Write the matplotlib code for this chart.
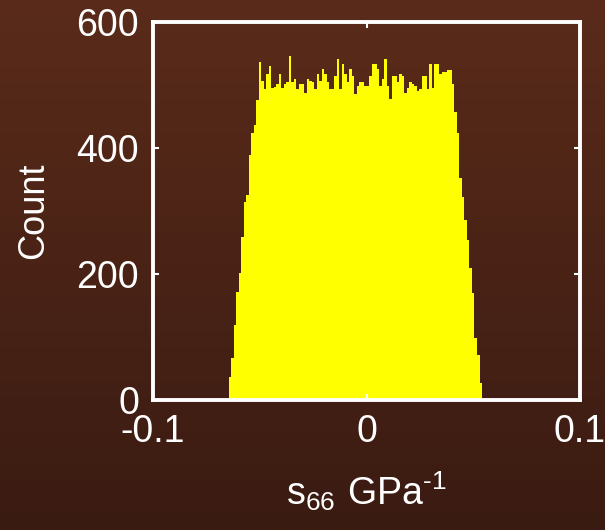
import numpy as np
import matplotlib
matplotlib.use("Agg")
import matplotlib.pyplot as plt
from matplotlib.colors import LinearSegmentedColormap

# histogram counts, left to right
counts = [37, 67, 119, 171, 201, 259, 314, 325, 389, 424, 437,
          476, 537, 507, 494, 517, 530, 495, 497, 502, 517,
          496, 502, 505, 546, 504, 510, 494, 502, 502, 488,
          510, 507, 504, 494, 517, 507, 525, 517, 504, 494,
          494, 514, 541, 494, 533, 517, 504, 525, 514, 486,
          499, 505, 505, 499, 499, 515, 533, 533, 525, 499,
          510, 541, 499, 478, 514, 514, 505, 517, 514, 488,
          496, 505, 502, 499, 491, 494, 514, 514, 494, 533,
          496, 533, 533, 517, 520, 520, 524, 524, 502, 457,
          424, 352, 322, 286, 254, 209, 170, 98, 71, 27]
data_lo = -0.0645   # left edge of first bin
data_hi = 0.0541    # right edge of last bin

xticks = [-0.1, 0, 0.1]
xticklabels = ['-0.1', '0', '0.1']
yticks = [0, 200, 400, 600]

plt.rcParams['font.family'] = ['Liberation Sans', 'DejaVu Sans']
plt.rcParams['mathtext.fontset'] = 'custom'
plt.rcParams['mathtext.rm'] = 'Liberation Sans'

fig = plt.figure(figsize=(6.05, 5.30), dpi=100)

# brown gradient background
bg = fig.add_axes([0, 0, 1, 1], zorder=-10)
cmap = LinearSegmentedColormap.from_list('bg', ['#5a2b1a', '#3a1b12'])
bg.imshow(np.linspace(0, 1, 256).reshape(-1, 1), aspect='auto', cmap=cmap,
          extent=[0, 1, 0, 1])
bg.axis('off')

ax = fig.add_axes([0.2529, 0.2453, 0.7058, 0.7132])
ax.patch.set_alpha(0)

edges = np.linspace(data_lo, data_hi, len(counts) + 1)
ax.stairs(counts, edges, fill=True, color='#ffff00', zorder=1)

ax.set_xlim(-0.1, 0.1)
ax.set_ylim(0, 600)
ax.set_xticks(xticks)
ax.set_xticklabels(xticklabels)
ax.set_yticks(yticks)

for s in ax.spines.values():
    s.set_color('white')
    s.set_linewidth(2.8)
    s.set_zorder(3)
ax.tick_params(direction='in', colors='white', labelsize=27, length=4,
               width=1.5, top=True, right=True, pad=10)

ax.set_xlabel(r'$\mathregular{s_{66}\ GPa^{\text{-}1}}$', color='white',
              fontsize=27, labelpad=14)
ax.set_ylabel('Count', color='white', fontsize=26, labelpad=18)

fig.savefig('out.png', dpi=100)
